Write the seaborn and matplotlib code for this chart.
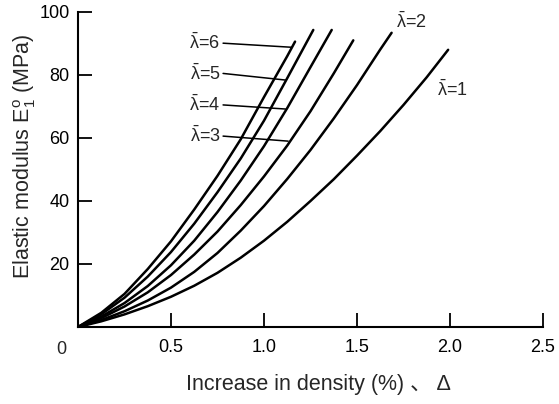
import matplotlib
matplotlib.use("Agg")
import matplotlib.pyplot as plt
import seaborn as sns
import pandas as pd

# ---- data ----
x_l1 = [0, 0.125, 0.25, 0.375, 0.5, 0.625, 0.75, 0.875, 1.0, 1.125, 1.25, 1.375, 1.5, 1.625, 1.75, 1.875, 1.99]
e_l1 = [0, 1.8, 4.0, 6.6, 9.6, 13.1, 17.2, 22.0, 27.4, 33.4, 40.0, 46.9, 54.4, 62.2, 70.5, 79.3, 88.0]
x_l2 = [0, 0.125, 0.25, 0.375, 0.5, 0.625, 0.75, 0.875, 1.0, 1.125, 1.25, 1.375, 1.5, 1.625, 1.686]
e_l2 = [0, 2.2, 5.0, 8.4, 12.5, 17.5, 23.5, 30.6, 38.4, 47.0, 56.2, 66.2, 76.8, 88.1, 93.4]
x_l3 = [0, 0.125, 0.25, 0.375, 0.5, 0.625, 0.75, 0.875, 1.0, 1.125, 1.25, 1.375, 1.48]
e_l3 = [0, 2.8, 6.5, 11.0, 16.5, 23.0, 30.3, 38.7, 47.8, 57.6, 68.5, 80.5, 91.0]
x_l4 = [0, 0.125, 0.25, 0.375, 0.5, 0.625, 0.75, 0.875, 1.0, 1.125, 1.25, 1.364]
e_l4 = [0, 3.3, 7.6, 13.0, 19.6, 27.4, 36.5, 46.5, 57.4, 69.5, 82.5, 94.3]
x_l5 = [0, 0.125, 0.25, 0.375, 0.5, 0.625, 0.75, 0.875, 1.0, 1.125, 1.265]
e_l5 = [0, 4.0, 9.3, 16.0, 23.8, 32.8, 42.8, 53.5, 65.5, 79.0, 94.3]
x_l6 = [0, 0.125, 0.25, 0.375, 0.5, 0.625, 0.75, 0.875, 1.0, 1.125, 1.167]
e_l6 = [0, 4.5, 10.5, 18.4, 27.2, 37.3, 48.0, 59.6, 73.0, 86.0, 90.6]

series = {"1": (x_l1, e_l1), "2": (x_l2, e_l2), "3": (x_l3, e_l3),
          "4": (x_l4, e_l4), "5": (x_l5, e_l5), "6": (x_l6, e_l6)}

x_ticks = [0.5, 1.0, 1.5, 2.0, 2.5]
x_tick_labels = ["0.5", "1.0", "1.5", "2.0", "2.5"]
y_ticks = [20, 40, 60, 80, 100]
y_tick_labels = ["20", "40", "60", "80", "100"]

# leader-label annotations: (label, text x, text y, line end x, line end y)
left_labels = [("6", 0.765, 90.1, 1.15, 88.8),
               ("5", 0.765, 80.5, 1.115, 78.4),
               ("4", 0.765, 70.5, 1.115, 69.2),
               ("3", 0.765, 60.6, 1.13, 59.0)]
right_labels = [("2", 1.71, 96.8), ("1", 1.93, 75.2)]

rows = []
for lam, (xs, es) in series.items():
    for xv, ev in zip(xs, es):
        rows.append({"lam": lam, "x": xv, "E": ev})
df = pd.DataFrame(rows)

sns.set_theme(style="ticks")
plt.rcParams["font.family"] = ["Liberation Sans", "DejaVu Sans"]
plt.rcParams["mathtext.fontset"] = "custom"
plt.rcParams["mathtext.rm"] = "Liberation Sans"
plt.rcParams["mathtext.it"] = "Liberation Sans"
plt.rcParams["mathtext.bf"] = "Liberation Sans:bold"

fig = plt.figure(figsize=(5.59, 4.04), dpi=100)
ax = fig.add_axes([0.1395, 0.1906, 0.8319, 0.7797])

sns.lineplot(data=df, x="x", y="E", hue="lam", units="lam", estimator=None,
             palette={k: "black" for k in series}, legend=False, sort=False,
             linewidth=1.8, ax=ax)

ax.set_xlim(0, 2.5)
ax.set_ylim(0, 100)
ax.set_xticks(x_ticks)
ax.set_xticklabels(x_tick_labels)
ax.set_yticks(y_ticks)
ax.set_yticklabels(y_tick_labels)
ax.tick_params(direction="in", length=10, width=1.3, labelsize=13, colors="black")
ax.tick_params(axis="x", pad=9)
ax.tick_params(axis="y", pad=6)
for s in ["top", "right"]:
    ax.spines[s].set_visible(False)
for s in ["left", "bottom"]:
    ax.spines[s].set_linewidth(1.5)
    ax.spines[s].set_color("black")

ax.set_xlabel("Increase in density (%) \u3001 \u0394", fontsize=15.5,
              family=["Liberation Sans", "Noto Sans CJK SC", "DejaVu Sans"])
ax.xaxis.set_label_coords(0.518, -0.15)
ax.set_ylabel(r"Elastic modulus $\mathrm{E}_1^{o}$ (MPa)", fontsize=15.5)
ax.yaxis.set_label_coords(-0.087, 0.543)
ax.text(-0.035, -0.073, "0", transform=ax.transAxes, fontsize=13,
        ha="center", va="center")

for lab, tx, ty, ex, ey in left_labels:
    ax.text(tx, ty, r"$\bar{\lambda}$=" + lab, fontsize=13, ha="right", va="center")
    ax.plot([tx + 0.015, ex], [ty, ey], color="black", linewidth=1.1)
for lab, tx, ty in right_labels:
    ax.text(tx, ty, r"$\bar{\lambda}$=" + lab, fontsize=13, ha="left", va="center")

fig.savefig("out.png", dpi=100)
